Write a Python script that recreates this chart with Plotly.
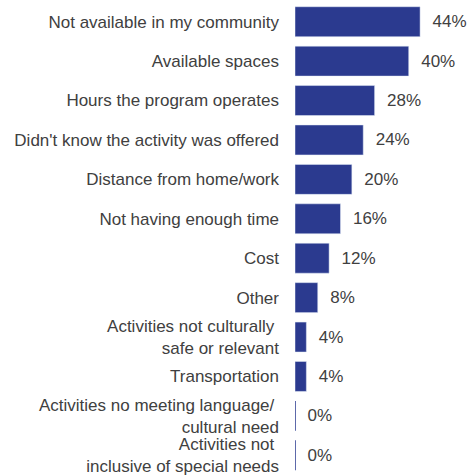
import plotly.graph_objects as go

# categories, top to bottom
reasons = [
    "Not available in my community",
    "Available spaces",
    "Hours the program operates",
    "Didn't know the activity was offered",
    "Distance from home/work",
    "Not having enough time",
    "Cost",
    "Other",
    "Activities not culturally <br>safe or relevant",
    "Transportation",
    "Activities no meeting language/ <br>cultural need",
    "Activities not <br>inclusive of special needs",
]
pct = [44, 40, 28, 24, 20, 16, 12, 8, 4, 4, 0, 0]

BAR_COLOR = "#2b3a8f"
TEXT_COLOR = "#404040"

fig = go.Figure()

fig.add_trace(go.Bar(
    x=pct, y=reasons, orientation="h",
    marker=dict(color=BAR_COLOR),
    text=[f"  {v}%" for v in pct],
    textposition="outside",
    textfont=dict(size=17, color=TEXT_COLOR),
    cliponaxis=False,
    constraintext="none",
    width=0.76,
))

# thin line marking the zero-valued bars
shapes = []
for i, v in enumerate(pct):
    if v == 0:
        shapes.append(dict(
            type="line", xref="x", yref="y",
            x0=0, x1=0, y0=i - 0.38, y1=i + 0.38,
            line=dict(color=BAR_COLOR, width=1.5),
        ))

fig.update_layout(
    width=469, height=475,
    paper_bgcolor="white", plot_bgcolor="white",
    margin=dict(l=295, r=0, t=2, b=0),
    font=dict(family="Liberation Sans, Arial, sans-serif", size=17, color=TEXT_COLOR),
    showlegend=False,
    shapes=shapes,
    xaxis=dict(range=[0, 61.2], visible=False, automargin=False),
    yaxis=dict(
        autorange="reversed", showgrid=False, zeroline=False,
        showline=False, ticks="", ticklabelstandoff=15, automargin=False,
        tickfont=dict(size=17, color=TEXT_COLOR),
    ),
)

# page has a default 8px body margin; drop it so the figure fills the window
fig.write_html(
    "out.html",
    config={"displayModeBar": False},
    post_script="document.body.style.margin='0';",
)
